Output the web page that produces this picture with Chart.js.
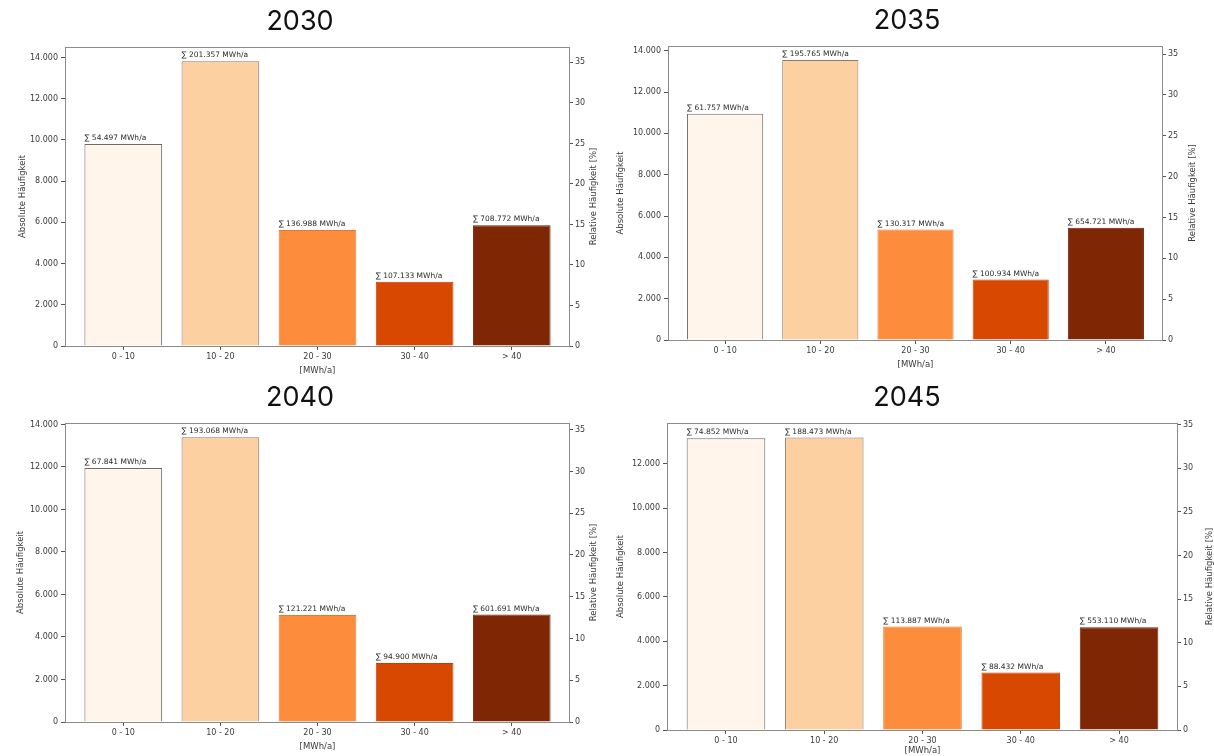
<!DOCTYPE html>
<html lang="de">
<head>
<meta charset="utf-8">
<title>Häufigkeit nach Verbrauchsklasse</title>
<script src="https://cdn.jsdelivr.net/npm/chart.js@4.4.1/dist/chart.umd.min.js"></script>
<style>
    body { margin: 0; background: #fff; width: 1214px; height: 756px; position: relative; overflow: hidden; }
    .panel { position: absolute; }
</style>
</head>
<body>
<div class="panel" style="left:0;top:0;"><canvas id="c0" width="600" height="378"></canvas></div>
<div class="panel" style="left:600px;top:0;"><canvas id="c1" width="614" height="378"></canvas></div>
<div class="panel" style="left:0;top:378px;"><canvas id="c2" width="600" height="378"></canvas></div>
<div class="panel" style="left:600px;top:378px;"><canvas id="c3" width="614" height="378"></canvas></div>

<script>
// ---------------------------------------------------------------------------
// Data
// ---------------------------------------------------------------------------
const categories = ['0 - 10', '10 - 20', '20 - 30', '30 - 40', '> 40'];
const years      = ['2030', '2035', '2040', '2045'];

const counts2030 = [9800, 13820, 5630, 3120, 5860];
const counts2035 = [10950, 13550, 5350, 2930, 5430];
const counts2040 = [11950, 13400, 5030, 2780, 5060];
const counts2045 = [13150, 13180, 4660, 2590, 4630];

const sums2030 = ['54.497', '201.357', '136.988', '107.133', '708.772'];
const sums2035 = ['61.757', '195.765', '130.317', '100.934', '654.721'];
const sums2040 = ['67.841', '193.068', '121.221', '94.900', '601.691'];
const sums2045 = ['74.852', '188.473', '113.887', '88.432', '553.110'];

// upper end of the right-hand (relative, %) axis per panel
const relMax = [36.9, 36.0, 35.8, 35.2];

const barColors = ['#fff5eb', '#fdd0a2', '#fd8d3c', '#d94801', '#7f2704'];

const allCounts = [counts2030, counts2035, counts2040, counts2045];
const allSums   = [sums2030, sums2035, sums2040, sums2045];

// ---------------------------------------------------------------------------
// Panel layout (canvas-local pixels)
// ---------------------------------------------------------------------------
const layouts = [
    { pad: { top: 47, right: 2,  bottom: 2, left: 18 }, yW: 47, yrW: 28, xH: 30 },
    { pad: { top: 46, right: 17, bottom: 8, left: 16 }, yW: 52, yrW: 34, xH: 30 },
    { pad: { top: 45, right: 2,  bottom: 4, left: 16 }, yW: 49, yrW: 28, xH: 30 },
    { pad: { top: 45, right: 0,  bottom: 0, left: 16 }, yW: 51, yrW: 36, xH: 26 },
];

const TICK_FONT  = { family: 'DejaVu Sans', size: 8 };
const TITLE_FONT = { family: 'DejaVu Sans', size: 8.5 };
const TEXT_COLOR = '#3a3a3a';
const SPINE      = '#8c8c8c';

// frame, panel title, right axis title and sum labels
const panelDecor = {
    id: 'panelDecor',
    afterDatasetsDraw(chart, args, opts) {
        const { ctx, chartArea: a } = chart;
        ctx.save();
        ctx.strokeStyle = SPINE;
        ctx.lineWidth = 1;
        ctx.strokeRect(a.left + 0.5, a.top + 0.5, a.right - a.left - 1, a.bottom - a.top);

        // sum labels, left aligned on each bar
        ctx.fillStyle = '#2b2b2b';
        ctx.font = '7.5px "DejaVu Sans"';
        ctx.textAlign = 'left';
        ctx.textBaseline = 'bottom';
        chart.getDatasetMeta(0).data.forEach((bar, i) => {
            ctx.fillText('\u2211 ' + opts.sums[i] + ' MWh/a', bar.x - bar.width / 2, bar.y - 2);
        });

        // right axis title, reading bottom to top like the left one
        const yr = chart.scales.yr;
        ctx.save();
        ctx.translate(yr.right - 4, (a.top + a.bottom) / 2);
        ctx.rotate(-Math.PI / 2);
        ctx.fillStyle = TEXT_COLOR;
        ctx.font = '8.5px "DejaVu Sans"';
        ctx.textAlign = 'center';
        ctx.textBaseline = 'middle';
        ctx.fillText('Relative Häufigkeit [%]', 0, 0);
        ctx.restore();

        // panel title
        ctx.fillStyle = '#111';
        ctx.font = '27px Inter';
        ctx.textAlign = 'center';
        ctx.textBaseline = 'middle';
        ctx.fillText(opts.title, chart.width / 2, a.top - 25);
        ctx.restore();
    },
};

function buildPanel(idx) {
    const counts = allCounts[idx];
    const lay    = layouts[idx];
    const yMax   = Math.max(...counts) * 1.05;

    const ctx = document.getElementById('c' + idx).getContext('2d');
    return new Chart(ctx, {
        type: 'bar',
        data: {
            datasets: [{
                data: counts.map((v, i) => ({ x: i, y: v })),
                backgroundColor: barColors,
                borderColor: ['#6b6b6b', '#8a7a6a', '#e07a30', '#c24000', '#6d2103'],
                borderWidth: 1,
                borderSkipped: 'bottom',
                categoryPercentage: 1,
                barPercentage: 0.8,
            }],
        },
        options: {
            responsive: false,
            animation: false,
            layout: { padding: lay.pad },
            plugins: {
                legend: { display: false },
                tooltip: { enabled: false },
                panelDecor: { title: years[idx], sums: allSums[idx] },
            },
            scales: {
                x: {
                    type: 'linear',
                    offset: false,
                    min: -0.6,
                    max: 4.6,
                    afterBuildTicks: s => { s.ticks = categories.map((c, i) => ({ value: i })); },
                    afterFit: s => { s.height = lay.xH; },
                    ticks: {
                        callback: v => categories[v] ?? '',
                        font: TICK_FONT, color: TEXT_COLOR, padding: 2,
                        maxRotation: 0, autoSkip: false,
                    },
                    grid: { offset: false, drawOnChartArea: false, drawTicks: true, tickLength: 4, color: '#555' },
                    border: { display: false },
                    title: { display: true, text: '[MWh/a]', font: TITLE_FONT, color: TEXT_COLOR, padding: { top: 1, bottom: 0 } },
                },
                y: {
                    position: 'left',
                    min: 0,
                    max: yMax,
                    afterBuildTicks: s => {
                        const t = [];
                        for (let v = 0; v <= s.max; v += 2000) t.push({ value: v });
                        s.ticks = t;
                    },
                    afterFit: s => { s.width = lay.yW; },
                    ticks: {
                        callback: v => v.toLocaleString('de-DE'),
                        font: TICK_FONT, color: TEXT_COLOR, padding: 3,
                    },
                    grid: { drawOnChartArea: false, drawTicks: true, tickLength: 4, color: '#555' },
                    border: { display: false },
                    title: { display: true, text: 'Absolute Häufigkeit', font: TITLE_FONT, color: TEXT_COLOR, padding: 0 },
                },
                yr: {
                    position: 'right',
                    min: 0,
                    max: relMax[idx],
                    afterBuildTicks: s => {
                        const t = [];
                        for (let v = 0; v <= s.max; v += 5) t.push({ value: v });
                        s.ticks = t;
                    },
                    afterFit: s => { s.width = lay.yrW; },
                    ticks: { font: TICK_FONT, color: TEXT_COLOR, padding: 2 },
                    grid: { drawOnChartArea: false, drawTicks: true, tickLength: 3, color: '#555' },
                    border: { display: false },
                    title: { display: false },
                },
            },
        },
        plugins: [panelDecor],
    });
}

document.addEventListener('DOMContentLoaded', () => {
    years.forEach((y, i) => buildPanel(i));
});
</script>
</body>
</html>
